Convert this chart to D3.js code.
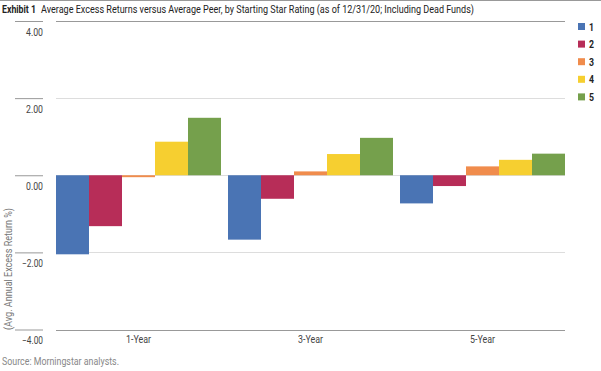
<!DOCTYPE html>
<html>
<head>
<meta charset="utf-8">
<script src="https://cdn.jsdelivr.net/npm/d3@7"></script>
<style>
  body { margin: 0; background: #fff; }
  text { font-family: "Roboto", "Liberation Sans", sans-serif; }
</style>
</head>
<body>
<script>
const width = 601;
const height = 371;

// data
const periods = ["1-Year", "3-Year", "5-Year"];
const ratings = ["1", "2", "3", "4", "5"];
const star1 = [-2.05, -1.67, -0.73];
const star2 = [-1.32, -0.61, -0.28];
const star3 = [-0.05, 0.10, 0.23];
const star4 = [0.87, 0.55, 0.40];
const star5 = [1.49, 0.97, 0.56];
const yTicks = [4, 2, 0, -2, -4];
const colors = ["#4a74b4", "#b72d58", "#f08c4c", "#f6cf30", "#75a04c"];

const series = [star1, star2, star3, star4, star5];
const rows = [];
periods.forEach((p, i) => {
  ratings.forEach((r, j) => rows.push({period: p, rating: r, value: series[j][i]}));
});

const svg = d3.select("body").append("svg")
  .attr("width", width)
  .attr("height", height);

const x0 = d3.scaleBand()
  .domain(periods)
  .range([52.5, 568.5])
  .paddingInner(7 / 172)
  .paddingOuter(3.5 / 172);

const x1 = d3.scaleBand()
  .domain(ratings)
  .range([0, x0.bandwidth()]);

const y = d3.scaleLinear()
  .domain([-4, 4])
  .range([329.5, 21]);

const color = d3.scaleOrdinal().domain(ratings).range(colors);

// top rule
svg.append("line")
  .attr("x1", 0).attr("x2", width)
  .attr("y1", 0.5).attr("y2", 0.5)
  .attr("stroke", "#999");

// title (reference font is condensed, so squeeze to its width)
svg.append("text")
  .attr("x", 2).attr("y", 13)
  .attr("font-size", 11)
  .attr("font-weight", "bold")
  .attr("fill", "#222")
  .attr("textLength", 34)
  .attr("lengthAdjust", "spacingAndGlyphs")
  .text("Exhibit 1");
svg.append("text")
  .attr("x", 41).attr("y", 13)
  .attr("font-size", 11)
  .attr("fill", "#222")
  .attr("textLength", 433)
  .attr("lengthAdjust", "spacingAndGlyphs")
  .text("Average Excess Returns versus Average Peer, by Starting Star Rating (as of 12/31/20; Including Dead Funds)");

// gridlines
svg.append("g")
  .selectAll("line")
  .data(yTicks)
  .join("line")
  .attr("x1", 56).attr("x2", 565)
  .attr("y1", d => Math.round(y(d)) + 0.5)
  .attr("y2", d => Math.round(y(d)) + 0.5)
  .attr("stroke", d => Math.abs(d) === 4 ? "#999" : "#ddd");

// y axis
const yAxis = d3.axisLeft(y)
  .tickValues(yTicks)
  .tickSize(28)
  .tickFormat(d => d < 0 ? "\u2212" + d3.format(".2f")(-d) : d3.format(".2f")(d));

const gy = svg.append("g")
  .attr("transform", "translate(43,0)")
  .call(yAxis);
gy.select(".domain").remove();
gy.selectAll(".tick line").attr("stroke", "#999");
gy.selectAll(".tick text")
  .attr("x", 0)
  .attr("y", 11)
  .attr("font-size", 10.5)
  .attr("font-family", null)
  .attr("fill", "#444")
  .attr("textLength", d => d < 0 ? 21 : 17)
  .attr("lengthAdjust", "spacingAndGlyphs");

// y title
svg.append("text")
  .attr("transform", "translate(12,330) rotate(-90)")
  .attr("font-size", 10.5)
  .attr("fill", "#777")
  .attr("textLength", 122)
  .attr("lengthAdjust", "spacingAndGlyphs")
  .text("(Avg. Annual Excess Return %)");

// bars
svg.append("g")
  .selectAll("g")
  .data(periods)
  .join("g")
  .attr("transform", d => "translate(" + x0(d) + ",0)")
  .selectAll("rect")
  .data(p => rows.filter(r => r.period === p))
  .join("rect")
  .attr("x", d => x1(d.rating))
  .attr("width", x1.bandwidth())
  .attr("y", d => y(Math.max(0, d.value)))
  .attr("height", d => Math.abs(y(d.value) - y(0)))
  .attr("fill", d => color(d.rating));

// x axis labels
const xAxis = d3.axisBottom(x0).tickSize(0);
const gx = svg.append("g")
  .attr("transform", "translate(0,333)")
  .call(xAxis);
gx.select(".domain").remove();
gx.selectAll(".tick text")
  .attr("font-size", 10.5)
  .attr("font-family", null)
  .attr("fill", "#444")
  .attr("textLength", 25)
  .attr("lengthAdjust", "spacingAndGlyphs");

// legend
const legend = svg.append("g")
  .selectAll("g")
  .data(ratings)
  .join("g")
  .attr("transform", (d, i) => "translate(578," + (23 + i * 17.6) + ")");
legend.append("rect")
  .attr("width", 7).attr("height", 7)
  .attr("fill", d => color(d));
legend.append("text")
  .attr("x", 11).attr("y", 7.5)
  .attr("font-size", 10.5)
  .attr("font-weight", "bold")
  .attr("fill", "#222")
  .attr("textLength", 5)
  .attr("lengthAdjust", "spacingAndGlyphs")
  .text(d => d);

// source
svg.append("text")
  .attr("x", 2).attr("y", 365)
  .attr("font-size", 10.5)
  .attr("fill", "#888")
  .attr("textLength", 117)
  .attr("lengthAdjust", "spacingAndGlyphs")
  .text("Source: Morningstar analysts.");
</script>
</body>
</html>
